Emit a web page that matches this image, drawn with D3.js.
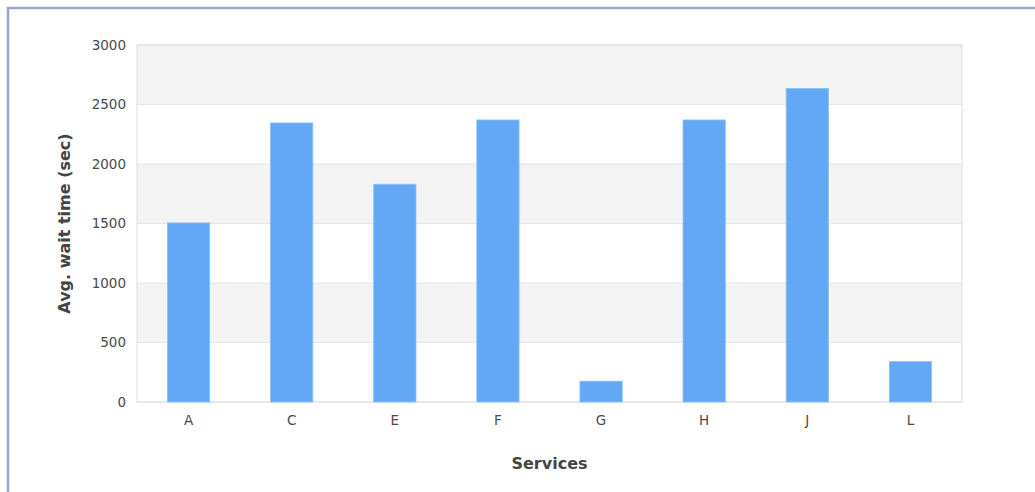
<!DOCTYPE html>
<html>
<head>
<meta charset="utf-8">
<script src="https://cdn.jsdelivr.net/npm/d3@7"></script>
<style>
  html, body { margin: 0; padding: 0; background: #fff; }
  svg { display: block; }
</style>
</head>
<body>
<svg id="chart" width="1035" height="492"></svg>
<script>
// Average wait time per service
const services = ["A", "C", "E", "F", "G", "H", "J", "L"];
const waitTimes = [1505, 2345, 1830, 2370, 175, 2370, 2635, 340];
const yTicks = [0, 500, 1000, 1500, 2000, 2500, 3000];

const svg = d3.select("#chart");
const W = 1035, H = 492;
const margin = { left: 137, right: 73, top: 45, bottom: 90 };
const plotW = W - margin.left - margin.right;
const plotH = H - margin.top - margin.bottom;

// Outer panel frame (top and left edges visible)
svg.append("rect")
  .attr("x", 8).attr("y", 8)
  .attr("width", W + 20).attr("height", H + 20)
  .attr("fill", "none")
  .attr("stroke", "#93a9c6")
  .attr("stroke-width", 2.5);

const g = svg.append("g").attr("transform", `translate(${margin.left},${margin.top})`);

const x = d3.scaleBand().domain(services).range([0, plotW]).paddingInner(0.59).paddingOuter(0.295);
const y = d3.scaleLinear().domain([0, 3000]).range([plotH, 0]);

// Alternating horizontal bands
const bands = d3.pairs(yTicks);
g.selectAll("rect.band").data(bands).join("rect")
  .attr("class", "band")
  .attr("x", 0).attr("width", plotW)
  .attr("y", d => y(d[1]))
  .attr("height", d => y(d[0]) - y(d[1]))
  .attr("fill", (d, i) => i % 2 === 1 ? "#f3f3f3" : "#ffffff");

// Gridlines
g.selectAll("line.grid").data(yTicks).join("line")
  .attr("class", "grid")
  .attr("x1", 0).attr("x2", plotW)
  .attr("y1", d => y(d)).attr("y2", d => y(d))
  .attr("stroke", "#e6e6e6").attr("stroke-width", 1.2);

// Plot border
g.append("rect")
  .attr("x", 0).attr("y", 0).attr("width", plotW).attr("height", plotH)
  .attr("fill", "none").attr("stroke", "#e2e2e2").attr("stroke-width", 1.2);

// Bars
g.selectAll("rect.bar").data(services).join("rect")
  .attr("class", "bar")
  .attr("x", d => x(d))
  .attr("width", x.bandwidth())
  .attr("y", (d, i) => y(waitTimes[i]))
  .attr("height", (d, i) => y(0) - y(waitTimes[i]))
  .attr("fill", "#62a8f4")
  .attr("stroke", "#8cc0f7")
  .attr("stroke-width", 0.8);

// Y axis
const yAxis = d3.axisLeft(y).tickValues(yTicks).tickFormat(d3.format("d")).tickSize(0).tickPadding(11);
const ya = g.append("g").call(yAxis);
ya.select(".domain").remove();
ya.selectAll("text")
  .attr("font-family", "DejaVu Sans, sans-serif")
  .attr("font-size", 13.5)
  .attr("fill", "#4a4a4a");

// X axis
const xAxis = d3.axisBottom(x).tickSize(0).tickPadding(13);
const xa = g.append("g").attr("transform", `translate(0,${plotH})`).call(xAxis);
xa.select(".domain").remove();
xa.selectAll("text")
  .attr("font-family", "DejaVu Sans, sans-serif")
  .attr("font-size", 13.5)
  .attr("fill", "#4a4a4a");

// Axis titles
svg.append("text")
  .attr("transform", `translate(70,${margin.top + plotH / 2}) rotate(-90)`)
  .attr("text-anchor", "middle")
  .attr("font-family", "DejaVu Sans, sans-serif")
  .attr("font-weight", "bold")
  .attr("font-size", 16)
  .attr("fill", "#444")
  .text("Avg. wait time (sec)");

svg.append("text")
  .attr("x", margin.left + plotW / 2)
  .attr("y", 469)
  .attr("text-anchor", "middle")
  .attr("font-family", "DejaVu Sans, sans-serif")
  .attr("font-weight", "bold")
  .attr("font-size", 16)
  .attr("fill", "#444")
  .text("Services");
</script>
</body>
</html>
